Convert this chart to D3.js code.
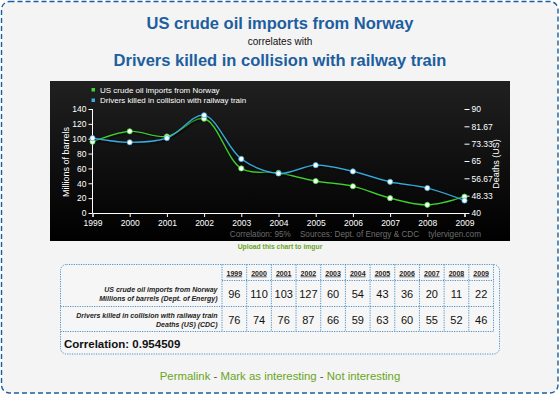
<!DOCTYPE html>
<html>
<head>
<meta charset="utf-8">
<script src="https://cdn.jsdelivr.net/npm/d3@7"></script>
<style>
  body { margin: 0; background: #fff; }
  svg { display: block; }
</style>
</head>
<body>
<div id="chart"></div>
<script>
const years = [1999, 2000, 2001, 2002, 2003, 2004, 2005, 2006, 2007, 2008, 2009];
const oilImports = [96, 110, 103, 127, 60, 54, 43, 36, 20, 11, 22];
const railDeaths = [76, 74, 76, 87, 66, 59, 63, 60, 55, 52, 46];
const leftTicks = [0, 20, 40, 60, 80, 100, 120, 140];
const rightTicks = [40, 48.33, 56.67, 65, 73.33, 81.67, 90];
const seriesNames = ["US crude oil imports from Norway", "Drivers killed in collision with railway train"];
const rowLabels = [
  ["US crude oil imports from Norway", "Millions of barrels (Dept. of Energy)"],
  ["Drivers killed in collision with railway train", "Deaths (US) (CDC)"]
];
const correlation = "0.954509";

const W = 560, H = 395;
const blue = "#1d5e9e";
const green = "#3fd62e";
const cyan = "#38ace0";
const linkGreen = "#6aa51c";

const svg = d3.select("#chart")
  .append("svg")
  .attr("width", W)
  .attr("height", H)
  .style("font-family", "'Liberation Sans', Arial, sans-serif");

// page frame
svg.append("rect")
  .attr("x", 1.5).attr("y", 1.5)
  .attr("width", 556.5).attr("height", 391.5)
  .attr("rx", 8)
  .attr("fill", "#f4f4f4")
  .attr("stroke", blue)
  .attr("stroke-width", 1.4)
  .attr("stroke-dasharray", "5,3");

// titles
svg.append("text")
  .attr("x", 280).attr("y", 29)
  .attr("text-anchor", "middle")
  .attr("fill", blue)
  .attr("font-size", 16.5).attr("font-weight", "bold")
  .text(seriesNames[0]);
svg.append("text")
  .attr("x", 280).attr("y", 45)
  .attr("text-anchor", "middle")
  .attr("fill", "#111")
  .attr("font-size", 10)
  .text("correlates with");
svg.append("text")
  .attr("x", 280).attr("y", 66)
  .attr("text-anchor", "middle")
  .attr("fill", blue)
  .attr("font-size", 16.5).attr("font-weight", "bold")
  .text(seriesNames[1]);

// chart panel
const defs = svg.append("defs");
const grad = defs.append("linearGradient")
  .attr("id", "bg").attr("x1", 0).attr("y1", 0).attr("x2", 0).attr("y2", 1);
grad.append("stop").attr("offset", "0%").attr("stop-color", "#202020");
grad.append("stop").attr("offset", "100%").attr("stop-color", "#000");

const filter = defs.append("filter").attr("id", "shadow")
  .attr("x", "-5%").attr("y", "-20%").attr("width", "110%").attr("height", "140%");
filter.append("feDropShadow")
  .attr("dx", 1).attr("dy", 1).attr("stdDeviation", 1.2)
  .attr("flood-color", "#000").attr("flood-opacity", 0.9);

svg.append("rect")
  .attr("x", 50).attr("y", 81)
  .attr("width", 460).attr("height", 160)
  .attr("fill", "url(#bg)");

const x = d3.scaleLinear().domain([1999, 2009]).range([92.5, 464.5]);
const yL = d3.scaleLinear().domain([0, 140]).range([213, 109]);
const yR = d3.scaleLinear().domain([40, 90]).range([213, 109]);

const axisFont = g => g.selectAll("text")
  .attr("fill", "#fff")
  .attr("font-size", 8.5)
  .attr("font-family", "'Liberation Sans', Arial, sans-serif");

const gx = svg.append("g")
  .attr("transform", "translate(0,213)")
  .call(d3.axisBottom(x).tickValues(years).tickFormat(d3.format("d")).tickSize(4).tickPadding(3))
  .call(axisFont);
gx.select(".domain").attr("stroke", "#fff");
gx.selectAll(".tick line").attr("stroke", "#fff");

const gl = svg.append("g")
  .attr("transform", "translate(92.5,0)")
  .call(d3.axisLeft(yL).tickValues(leftTicks).tickSize(4).tickPadding(2))
  .call(axisFont);
gl.select(".domain").attr("stroke", "#fff").attr("d", "M0,109V213");
gl.selectAll(".tick line").attr("stroke", "#fff");

const gr = svg.append("g")
  .attr("transform", "translate(464.5,0)")
  .call(d3.axisRight(yR).tickValues(rightTicks).tickFormat(d => d).tickSize(5).tickPadding(2))
  .call(axisFont);
gr.select(".domain").remove();
gr.selectAll(".tick line").attr("stroke", "#fff");

// axis titles
svg.append("text")
  .attr("transform", "translate(69,162) rotate(-90)")
  .attr("text-anchor", "middle")
  .attr("fill", "#fff").attr("font-size", 9)
  .text("Millions of barrels");
svg.append("text")
  .attr("transform", "translate(499,164) rotate(-90)")
  .attr("text-anchor", "middle")
  .attr("fill", "#fff").attr("font-size", 9)
  .text("Deaths (US)");

// series
const series = [
  { values: oilImports, y: yL, color: green },
  { values: railDeaths, y: yR, color: cyan }
];
series.forEach(s => {
  const line = d3.line()
    .x((d, i) => x(years[i]))
    .y(d => s.y(d))
    .curve(d3.curveCatmullRom.alpha(0.5));
  svg.append("path")
    .datum(s.values)
    .attr("d", line)
    .attr("fill", "none")
    .attr("stroke", s.color)
    .attr("stroke-width", 1.2)
    .attr("filter", "url(#shadow)");
});
series.forEach(s => {
  svg.append("g").selectAll("circle")
    .data(s.values)
    .join("circle")
    .attr("cx", (d, i) => x(years[i]))
    .attr("cy", d => s.y(d))
    .attr("r", 2.6)
    .attr("fill", "#fff")
    .attr("stroke", s.color)
    .attr("stroke-width", 0.8);
});

// legend
const legend = svg.append("g");
seriesNames.forEach((name, i) => {
  legend.append("rect")
    .attr("x", 91.5).attr("y", 88 + i * 10.5)
    .attr("width", 3.5).attr("height", 3.5)
    .attr("fill", series[i].color);
  legend.append("text")
    .attr("x", 100).attr("y", 92.5 + i * 10.5)
    .attr("fill", "#fff").attr("font-size", 8)
    .text(name);
});

// watermark
svg.append("text")
  .attr("x", 481).attr("y", 237)
  .attr("text-anchor", "end")
  .attr("fill", "#6e6e6e").attr("font-size", 8.2)
  .attr("xml:space", "preserve")
  .text("Correlation: 95%    Sources: Dept. of Energy & CDC    tylervigen.com");

svg.append("text")
  .attr("x", 280).attr("y", 248.5)
  .attr("text-anchor", "middle")
  .attr("fill", linkGreen).attr("font-size", 6.8).attr("font-weight", "bold")
  .text("Upload this chart to imgur");

// data table
const tb = svg.append("g");
const colX = d3.scaleBand().domain(years).range([222, 493.5]);
const dotted = { stroke: "#3a88c4", "stroke-width": 0.9, "stroke-dasharray": "1.2,1.2" };
const applyDots = sel => Object.entries(dotted).forEach(([k, v]) => sel.attr(k, v));

tb.append("rect")
  .attr("x", 60.5).attr("y", 264.5)
  .attr("width", 439).attr("height", 89.5)
  .attr("rx", 6)
  .attr("fill", "#f6f6f6")
  .call(applyDots);

// horizontal separators
[[222, 493.5, 280.5], [60.5, 493.5, 306.5], [60.5, 493.5, 331.5]].forEach(([a, b, yy]) => {
  tb.append("line").attr("x1", a).attr("x2", b).attr("y1", yy).attr("y2", yy).call(applyDots);
});
// vertical separators
years.concat(["end"]).forEach((yr, i) => {
  const xx = i < years.length ? colX(yr) : colX.range()[1];
  tb.append("line").attr("x1", xx).attr("x2", xx).attr("y1", 264.5).attr("y2", 331.5).call(applyDots);
});

years.forEach((yr, i) => {
  const cx = colX(yr) + colX.bandwidth() / 2;
  tb.append("text")
    .attr("x", cx).attr("y", 275.5)
    .attr("text-anchor", "middle")
    .attr("font-size", 7).attr("font-weight", "bold")
    .attr("fill", "#222")
    .attr("text-decoration", "underline")
    .text(yr);
  tb.append("text")
    .attr("x", cx).attr("y", 298)
    .attr("text-anchor", "middle")
    .attr("font-size", 11)
    .attr("fill", "#111")
    .text(oilImports[i]);
  tb.append("text")
    .attr("x", cx).attr("y", 324)
    .attr("text-anchor", "middle")
    .attr("font-size", 11)
    .attr("fill", "#111")
    .text(railDeaths[i]);
});

rowLabels.forEach((lines, r) => {
  lines.forEach((t, k) => {
    tb.append("text")
      .attr("x", 217.5).attr("y", 292 + r * 26 + k * 9)
      .attr("text-anchor", "end")
      .attr("font-size", 7).attr("font-weight", "bold").attr("font-style", "italic")
      .attr("fill", "#222")
      .text(t);
  });
});

tb.append("text")
  .attr("x", 64).attr("y", 348)
  .attr("font-size", 11.5).attr("font-weight", "bold")
  .attr("fill", "#111")
  .text("Correlation: " + correlation);

// links
const links = svg.append("text")
  .attr("x", 280).attr("y", 379.5)
  .attr("text-anchor", "middle")
  .attr("font-size", 11.4);
["Permalink", " - ", "Mark as interesting", " - ", "Not interesting"].forEach((t, i) => {
  links.append("tspan")
    .attr("fill", i % 2 ? "#555" : linkGreen)
    .attr("xml:space", "preserve")
    .text(t);
});
</script>
</body>
</html>
